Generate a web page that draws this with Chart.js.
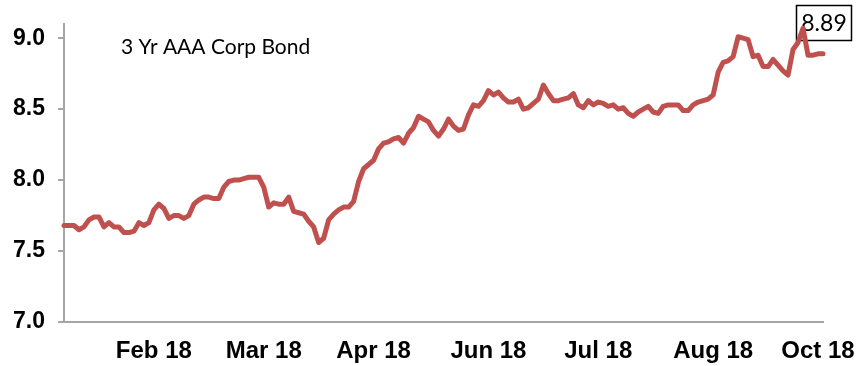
<!DOCTYPE html>
<html>
<head>
<meta charset="utf-8">
<script src="https://cdn.jsdelivr.net/npm/chart.js@4/dist/chart.umd.min.js"></script>
<style>
  html, body { margin: 0; padding: 0; background: #ffffff; }
  #wrap { width: 861px; height: 366px; }
</style>
</head>
<body>
<div id="wrap"><canvas id="c" width="861" height="366"></canvas></div>
<script>
// 3-year AAA corporate bond yield (%), trading days Jan 2018 – Oct 2018
const seriesName = '3 Yr AAA Corp Bond';
const yieldValues = [
  7.68, 7.68, 7.68, 7.65, 7.67, 7.72, 7.74, 7.74, 7.67, 7.70,
  7.67, 7.67, 7.63, 7.63, 7.64, 7.70, 7.68, 7.70, 7.79, 7.83,
  7.80, 7.73, 7.75, 7.75, 7.73, 7.75, 7.83, 7.86, 7.88, 7.88,
  7.87, 7.87, 7.95, 7.99, 8.00, 8.00, 8.01, 8.02, 8.02, 8.02,
  7.95, 7.81, 7.84, 7.83, 7.83, 7.88, 7.78, 7.77, 7.76, 7.71,
  7.67, 7.56, 7.59, 7.72, 7.76, 7.79, 7.81, 7.81, 7.85, 7.99,
  8.08, 8.11, 8.14, 8.22, 8.26, 8.27, 8.29, 8.30, 8.26, 8.33,
  8.37, 8.45, 8.43, 8.41, 8.35, 8.31, 8.36, 8.43, 8.38, 8.35,
  8.36, 8.46, 8.53, 8.52, 8.56, 8.63, 8.60, 8.62, 8.58, 8.55,
  8.55, 8.57, 8.50, 8.51, 8.54, 8.57, 8.67, 8.61, 8.56, 8.56,
  8.57, 8.58, 8.61, 8.53, 8.51, 8.56, 8.53, 8.55, 8.54, 8.52,
  8.53, 8.50, 8.51, 8.47, 8.45, 8.48, 8.50, 8.52, 8.48, 8.47,
  8.52, 8.53, 8.53, 8.53, 8.49, 8.49, 8.53, 8.55, 8.56, 8.57,
  8.60, 8.76, 8.83, 8.84, 8.87, 9.01, 9.00, 8.99, 8.87, 8.88,
  8.80, 8.80, 8.85, 8.81, 8.77, 8.74, 8.92, 8.97, 9.07, 8.88,
  8.88, 8.89, 8.89
];
// month labels shown on the category axis and the day they sit on
const monthLabels = ['Feb 18', 'Mar 18', 'Apr 18', 'Jun 18', 'Jul 18', 'Aug 18', 'Oct 18'];
const monthIndex  = [18, 40, 62, 85, 107, 130, 151];
const yTicks = [7.0, 7.5, 8.0, 8.5, 9.0];

const dayLabels = yieldValues.map((_, i) => String(i));
const lastValue = yieldValues[yieldValues.length - 1];

const axisGrey = '#a6a6a6';
const lineRed = '#c0504d';

// series caption in the upper left of the plot
const captionPlugin = {
  id: 'caption',
  afterDraw(chart) {
    const ctx = chart.ctx;
    ctx.save();
    ctx.font = '21px Lato, "Open Sans", sans-serif';
    ctx.fillStyle = '#000000';
    ctx.textAlign = 'left';
    ctx.textBaseline = 'alphabetic';
    ctx.fillText(seriesName, 121, 54);
    ctx.restore();
  }
};

// boxed value label above the latest point (the line is drawn over it)
const lastLabelPlugin = {
  id: 'lastLabel',
  beforeDatasetsDraw(chart) {
    const meta = chart.getDatasetMeta(0);
    const pt = meta.data[meta.data.length - 1];
    const ctx = chart.ctx;
    const text = lastValue.toFixed(2);
    ctx.save();
    ctx.font = '23px Lato, "Open Sans", sans-serif';
    const w = 55, h = 35;
    const cx = pt.x;
    const bottom = pt.y - 14;
    const x0 = Math.round(cx - w / 2) + 0.5;
    const y0 = Math.round(bottom - h) + 0.5;
    ctx.fillStyle = '#ffffff';
    ctx.fillRect(x0, y0, w, h);
    ctx.strokeStyle = '#000000';
    ctx.lineWidth = 1.5;
    ctx.strokeRect(x0, y0, w, h);
    ctx.fillStyle = '#000000';
    ctx.textAlign = 'center';
    ctx.textBaseline = 'middle';
    ctx.fillText(text, x0 + w / 2, y0 + h / 2 + 1);
    ctx.restore();
  }
};

new Chart(document.getElementById('c'), {
  type: 'line',
  data: {
    labels: dayLabels,
    datasets: [{
      label: seriesName,
      data: yieldValues,
      borderColor: lineRed,
      borderWidth: 5,
      pointRadius: 0,
      tension: 0,
      borderJoinStyle: 'round',
      borderCapStyle: 'round',
      fill: false,
      clip: 6
    }]
  },
  options: {
    responsive: false,
    animation: false,
    devicePixelRatio: 1,
    layout: { padding: { left: 0, right: 38, top: 24, bottom: 0 } },
    plugins: {
      legend: { display: false },
      tooltip: { enabled: false }
    },
    scales: {
      x: {
        type: 'category',
        offset: false,
        grid: { display: false, drawTicks: false },
        border: { display: true, color: axisGrey, width: 2 },
        afterBuildTicks(axis) {
          axis.ticks = monthIndex.map(v => ({ value: v }));
        },
        afterFit(axis) {
          axis.height = 44;
          axis.paddingLeft = 0;
          axis.paddingRight = 0;
        },
        ticks: {
          autoSkip: false,
          maxRotation: 0,
          minRotation: 0,
          padding: 15,
          color: '#000000',
          font: { family: '"Liberation Sans", Arial, sans-serif', size: 24, weight: 'bold' },
          callback: (value, i) => monthLabels[i]
        }
      },
      y: {
        min: 7.0,
        max: 9.1,
        afterBuildTicks(axis) {
          axis.ticks = yTicks.map(v => ({ value: v }));
        },
        afterFit(axis) {
          axis.width = 64;
          axis.paddingTop = 0;
          axis.paddingBottom = 0;
        },
        grid: {
          drawOnChartArea: false,
          drawTicks: true,
          tickLength: 6,
          color: axisGrey,
          lineWidth: 2
        },
        border: { display: true, color: axisGrey, width: 2 },
        ticks: {
          padding: 13,
          color: '#000000',
          font: { family: '"Liberation Sans", Arial, sans-serif', size: 23, weight: 'bold' },
          callback: v => Number(v).toFixed(1)
        }
      }
    }
  },
  plugins: [captionPlugin, lastLabelPlugin]
});
</script>
</body>
</html>
